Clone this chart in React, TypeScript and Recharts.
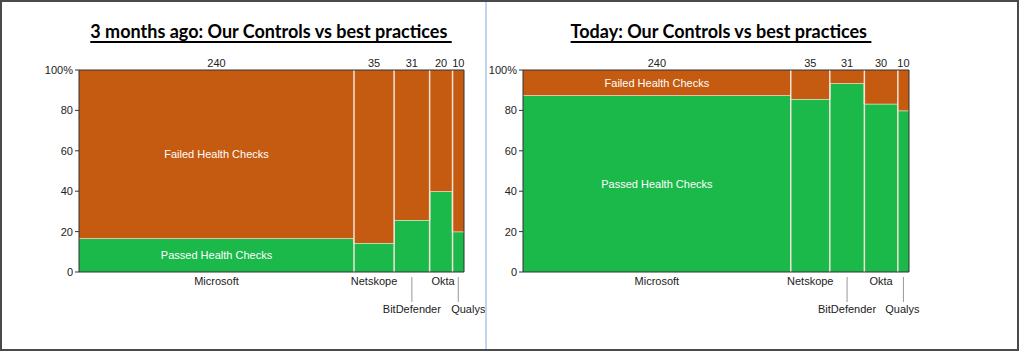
import { ComposedChart, Area, XAxis, YAxis, ReferenceLine, ReferenceArea } from "recharts";

const vendors = ["Microsoft", "Netskope", "BitDefender", "Okta", "Qualys"];
const droppedLabel = [false, false, true, false, true];

// 3 months ago
const checksBefore = [240, 35, 31, 20, 10];
const passedBefore = [16.7, 14.3, 25.8, 40, 20];

// today
const checksToday = [240, 35, 31, 30, 10];
const passedToday = [87.5, 85.7, 93.5, 83.3, 80];

const yTicks = [0, 20, 40, 60, 80, 100];

const ORANGE = "#c55a11";
const GREEN = "#1bb84a";
const SEP = "#f3e4d6";
const AXIS = "#333";
const FONT = "'Liberation Sans', Arial, sans-serif";

function buildRows(counts: number[], passed: number[]) {
  const rows: { x: number; passed: number; failed: number }[] = [];
  let start = 0;
  counts.forEach((c, i) => {
    rows.push({ x: start, passed: passed[i], failed: 100 - passed[i] });
    start += c;
  });
  const last = passed[passed.length - 1];
  rows.push({ x: start, passed: last, failed: 100 - last });
  return rows;
}

function Panel({
  counts,
  passed,
  width,
  margin,
  yWidth,
  shifts,
}: {
  counts: number[];
  passed: number[];
  width: number;
  margin: { top: number; right: number; bottom: number; left: number };
  yWidth: number;
  shifts: number[];
}) {
  const rows = buildRows(counts, passed);
  const total = counts.reduce((a, b) => a + b, 0);
  const starts = rows.map((r) => r.x);
  const centers = counts.map((c, i) => starts[i] + c / 2);
  const inner = starts.slice(1, -1);

  const VendorTick = (props: any) => {
    const { x, y, index } = props;
    const dropped = droppedLabel[index];
    return (
      <g>
        {dropped && <line x1={x} x2={x} y1={y + 5} y2={y + 30} stroke="#999" />}
        <text
          x={x + (shifts[index] || 0)}
          y={y + (dropped ? 41 : 13)}
          textAnchor="middle"
          fontSize={11}
          fill="#222"
        >
          {vendors[index]}
        </text>
      </g>
    );
  };

  return (
    <ComposedChart width={width} height={352} data={rows} margin={margin} style={{ fontFamily: FONT }}>
      <XAxis
        dataKey="x"
        type="number"
        domain={[0, total]}
        ticks={centers}
        interval={0}
        axisLine={{ stroke: AXIS }}
        tickLine={false}
        tickSize={0}
        tickMargin={0}
        height={50}
        tick={VendorTick}
      />
      <YAxis
        type="number"
        domain={[0, 100]}
        ticks={yTicks}
        interval={0}
        width={yWidth}
        axisLine={{ stroke: AXIS }}
        tickLine={{ stroke: AXIS }}
        tickSize={4}
        tick={{ fontSize: 11, fill: "#222" }}
        tickFormatter={(v: number) => (v === 100 ? "100%" : String(v))}
      />
      <Area
        type="stepAfter"
        dataKey="passed"
        stackId="a"
        fill={GREEN}
        fillOpacity={1}
        stroke={SEP}
        strokeWidth={1.5}
        isAnimationActive={false}
        activeDot={false}
      />
      <Area
        type="stepAfter"
        dataKey="failed"
        stackId="a"
        fill={ORANGE}
        fillOpacity={1}
        stroke="none"
        isAnimationActive={false}
        activeDot={false}
      />
      {inner.map((b) => (
        <ReferenceLine key={b} x={b} stroke={SEP} strokeWidth={1.5} />
      ))}
      <ReferenceLine x={total} stroke={AXIS} />
      <ReferenceLine y={100} stroke={AXIS} />
      {counts.map((c, i) => (
        <ReferenceArea
          key={"n" + i}
          x1={starts[i]}
          x2={starts[i + 1]}
          y1={0}
          y2={100}
          fillOpacity={0}
          stroke="none"
          label={{ value: String(c), position: "top", offset: 3, fill: "#222", fontSize: 11 }}
        />
      ))}
      <ReferenceArea
        x1={0}
        x2={counts[0]}
        y1={0}
        y2={passed[0]}
        fillOpacity={0}
        stroke="none"
        label={{ value: "Passed Health Checks", position: "center", fill: "#fff", fontSize: 11 }}
      />
      <ReferenceArea
        x1={0}
        x2={counts[0]}
        y1={passed[0]}
        y2={100}
        fillOpacity={0}
        stroke="none"
        label={{ value: "Failed Health Checks", position: "center", fill: "#fff", fontSize: 11 }}
      />
    </ComposedChart>
  );
}

const titleStyle: React.CSSProperties = {
  position: "absolute",
  top: 20,
  width: 480,
  textAlign: "center",
  fontFamily: "Lato, 'Open Sans', sans-serif",
  fontWeight: 700,
  fontSize: 18,
  color: "#000",
  textDecoration: "underline",
  textDecorationThickness: 2,
  textUnderlineOffset: 3,
  whiteSpace: "pre",
};

export default function App() {
  return (
    <div
      style={{
        position: "absolute",
        left: 0,
        top: 0,
        width: 1020,
        height: 352,
        background: "#fff",
        overflow: "hidden",
      }}
    >
      <div style={{ position: "absolute", left: 0, top: 0 }}>
        <Panel
          counts={checksBefore}
          passed={passedBefore}
          width={486}
          margin={{ top: 70, right: 22, bottom: 30, left: 39 }}
          yWidth={40}
          shifts={[0, 0, 0, 2, 10]}
        />
      </div>
      <div style={{ position: "absolute", left: 486, top: 0 }}>
        <Panel
          counts={checksToday}
          passed={passedToday}
          width={534}
          margin={{ top: 70, right: 111, bottom: 30, left: 2 }}
          yWidth={35}
          shifts={[0, 0, 0, 0, -1]}
        />
      </div>
      <div style={{ ...titleStyle, left: 31 }}>{"3 months ago: Our Controls vs best practices "}</div>
      <div style={{ ...titleStyle, left: 481 }}>{"Today: Our Controls vs best practices "}</div>
      <div style={{ position: "absolute", left: 485, top: 0, width: 2, height: 350, background: "#c3d5ea" }} />
      <div
        style={{
          position: "absolute",
          left: 0,
          top: 0,
          width: 1019,
          height: 351,
          boxSizing: "border-box",
          border: "2px solid #4a4a4a",
          pointerEvents: "none",
        }}
      />
    </div>
  );
}
